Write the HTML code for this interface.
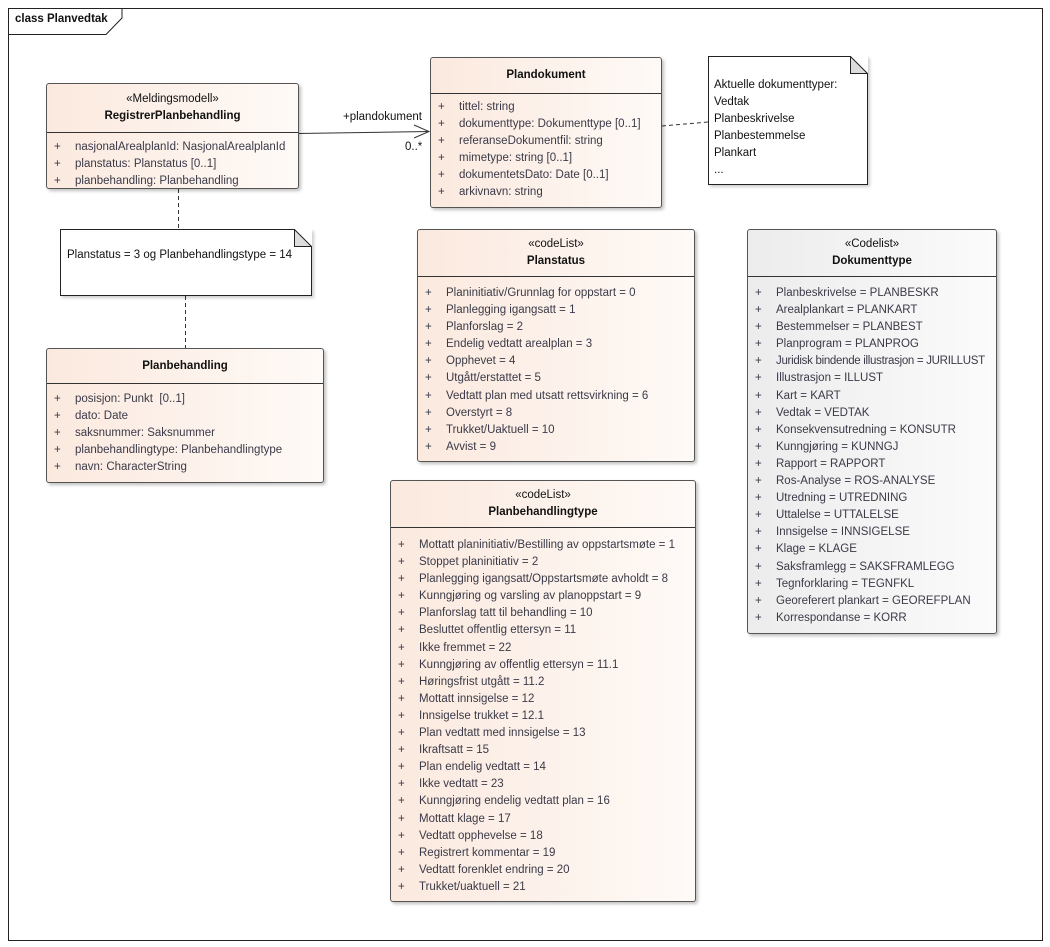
<!DOCTYPE html>
<html><head><meta charset="utf-8">
<style>
*{margin:0;padding:0;box-sizing:border-box}
body{width:1050px;height:947px;background:#fff;position:relative;font-family:"Liberation Sans",sans-serif;font-size:11.5px;color:#333;overflow:hidden}
.abs{position:absolute}
.cls{position:absolute;border:1px solid #555;border-radius:3px;background:linear-gradient(90deg,#fbe9de,#fefaf7);box-shadow:2px 2px 3px rgba(0,0,0,.25)}
.cls.grey{background:linear-gradient(90deg,#ececec,#fbfbfb)}
.hd{border-bottom:1px solid #333;text-align:center;color:#111;display:flex;flex-direction:column;justify-content:center;line-height:17px}
.hd b{font-weight:bold}
.rows{padding-top:10px}
.r{height:17.1px;line-height:17.1px;white-space:nowrap;position:relative;padding-left:28px;color:#3a3a48}
.r:before{content:"+";position:absolute;left:7px}
.note{position:absolute;background:#fff;border:1px solid #222;box-shadow:2px 2px 3px rgba(0,0,0,.2)}
</style></head><body>
<svg class="abs" style="left:0;top:0" width="1050" height="947">
<rect x="8.5" y="8.5" width="1034" height="932" fill="none" stroke="#222"/>
<path d="M8.5 34.5 H106 L122 18 V8.5" fill="none" stroke="#222"/>
<line x1="298" y1="133.5" x2="429" y2="131.5" stroke="#333"/>
<path d="M414 125 L429 131.5 L414 138" fill="none" stroke="#333"/>
<line x1="178.5" y1="189" x2="178.5" y2="229" stroke="#333" stroke-dasharray="4,3"/>
<line x1="185.5" y1="296" x2="185.5" y2="348" stroke="#333" stroke-dasharray="4,3"/>
<line x1="662" y1="126" x2="708" y2="122" stroke="#333" stroke-dasharray="4,3"/>
</svg>
<div class="abs" style="left:15px;top:13px;font-weight:bold;color:#111">class Planvedtak</div>
<div class="abs" style="left:343px;top:111px;color:#111">+plandokument</div>
<div class="abs" style="left:405px;top:141px;color:#111">0..*</div>

<div class="cls" style="left:46px;top:83px;width:253px;height:106px">
<div class="hd" style="height:49px"><span>«Meldingsmodell»</span><b>RegistrerPlanbehandling</b></div>
<div class="rows" style="padding-top:6px">
<div class="r">nasjonalArealplanId: NasjonalArealplanId</div>
<div class="r">planstatus: Planstatus [0..1]</div>
<div class="r">planbehandling: Planbehandling</div></div></div>

<div class="cls" style="left:430px;top:57px;width:232px;height:151px">
<div class="hd" style="height:36px"><b>Plandokument</b></div>
<div class="rows" style="padding-top:5px">
<div class="r">tittel: string</div>
<div class="r">dokumenttype: Dokumenttype [0..1]</div>
<div class="r">referanseDokumentfil: string</div>
<div class="r">mimetype: string [0..1]</div>
<div class="r">dokumentetsDato: Date [0..1]</div>
<div class="r">arkivnavn: string</div></div></div>

<div class="note" style="left:708px;top:56px;width:160px;height:129px">
<svg class="abs" style="right:-1px;top:-1px" width="18" height="18"><path d="M0 0 H18 V18" fill="#fff"/><path d="M0.5 0.5 L0.5 17.5 H17.5 Z" fill="#ddd" stroke="#222"/></svg>
<div class="abs" style="left:5px;top:20px;line-height:17.1px;color:#111">Aktuelle dokumenttyper:<br>Vedtak<br>Planbeskrivelse<br>Planbestemmelse<br>Plankart<br>...</div></div>

<div class="note" style="left:60px;top:229px;width:252px;height:67px">
<svg class="abs" style="right:-1px;top:-1px" width="18" height="18"><path d="M0 0 H18 V18" fill="#fff"/><path d="M0.5 0.5 L0.5 17.5 H17.5 Z" fill="#ddd" stroke="#222"/></svg>
<div class="abs" style="left:6px;top:19px;color:#111">Planstatus = 3 og Planbehandlingstype = 14</div></div>

<div class="cls" style="left:46px;top:348px;width:278px;height:135px">
<div class="hd" style="height:35px"><b>Planbehandling</b></div>
<div class="rows" style="padding-top:7px">
<div class="r">posisjon: Punkt &nbsp;[0..1]</div>
<div class="r">dato: Date</div>
<div class="r">saksnummer: Saksnummer</div>
<div class="r">planbehandlingtype: Planbehandlingtype</div>
<div class="r">navn: CharacterString</div></div></div>

<div class="cls" style="left:417px;top:229px;width:278px;height:233px">
<div class="hd" style="height:47px"><span>«codeList»</span><b>Planstatus</b></div>
<div class="rows" style="padding-top:8px">
<div class="r">Planinitiativ/Grunnlag for oppstart = 0</div>
<div class="r">Planlegging igangsatt = 1</div>
<div class="r">Planforslag = 2</div>
<div class="r">Endelig vedtatt arealplan = 3</div>
<div class="r">Opphevet = 4</div>
<div class="r">Utgått/erstattet = 5</div>
<div class="r">Vedtatt plan med utsatt rettsvirkning = 6</div>
<div class="r">Overstyrt = 8</div>
<div class="r">Trukket/Uaktuell = 10</div>
<div class="r">Avvist = 9</div></div></div>

<div class="cls grey" style="left:747px;top:229px;width:250px;height:405px">
<div class="hd" style="height:47px"><span>«Codelist»</span><b>Dokumenttype</b></div>
<div class="rows" style="padding-top:8px">
<div class="r">Planbeskrivelse = PLANBESKR</div>
<div class="r">Arealplankart = PLANKART</div>
<div class="r">Bestemmelser = PLANBEST</div>
<div class="r">Planprogram = PLANPROG</div>
<div class="r" style="letter-spacing:-0.3px">Juridisk bindende illustrasjon = JURILLUST</div>
<div class="r">Illustrasjon = ILLUST</div>
<div class="r">Kart = KART</div>
<div class="r">Vedtak = VEDTAK</div>
<div class="r">Konsekvensutredning = KONSUTR</div>
<div class="r">Kunngjøring = KUNNGJ</div>
<div class="r">Rapport = RAPPORT</div>
<div class="r">Ros-Analyse = ROS-ANALYSE</div>
<div class="r">Utredning = UTREDNING</div>
<div class="r">Uttalelse = UTTALELSE</div>
<div class="r">Innsigelse = INNSIGELSE</div>
<div class="r">Klage = KLAGE</div>
<div class="r">Saksframlegg = SAKSFRAMLEGG</div>
<div class="r">Tegnforklaring = TEGNFKL</div>
<div class="r">Georeferert plankart = GEOREFPLAN</div>
<div class="r">Korrespondanse = KORR</div></div></div>

<div class="cls" style="left:390px;top:480px;width:306px;height:422px">
<div class="hd" style="height:47px"><span>«codeList»</span><b>Planbehandlingtype</b></div>
<div class="rows" style="padding-top:9px">
<div class="r">Mottatt planinitiativ/Bestilling av oppstartsmøte = 1</div>
<div class="r">Stoppet planinitiativ = 2</div>
<div class="r">Planlegging igangsatt/Oppstartsmøte avholdt = 8</div>
<div class="r">Kunngjøring og varsling av planoppstart = 9</div>
<div class="r">Planforslag tatt til behandling = 10</div>
<div class="r">Besluttet offentlig ettersyn = 11</div>
<div class="r">Ikke fremmet = 22</div>
<div class="r">Kunngjøring av offentlig ettersyn = 11.1</div>
<div class="r">Høringsfrist utgått = 11.2</div>
<div class="r">Mottatt innsigelse = 12</div>
<div class="r">Innsigelse trukket = 12.1</div>
<div class="r">Plan vedtatt med innsigelse = 13</div>
<div class="r">Ikraftsatt = 15</div>
<div class="r">Plan endelig vedtatt = 14</div>
<div class="r">Ikke vedtatt = 23</div>
<div class="r">Kunngjøring endelig vedtatt plan = 16</div>
<div class="r">Mottatt klage = 17</div>
<div class="r">Vedtatt opphevelse = 18</div>
<div class="r">Registrert kommentar = 19</div>
<div class="r">Vedtatt forenklet endring = 20</div>
<div class="r">Trukket/uaktuell = 21</div></div></div>
</body></html>
